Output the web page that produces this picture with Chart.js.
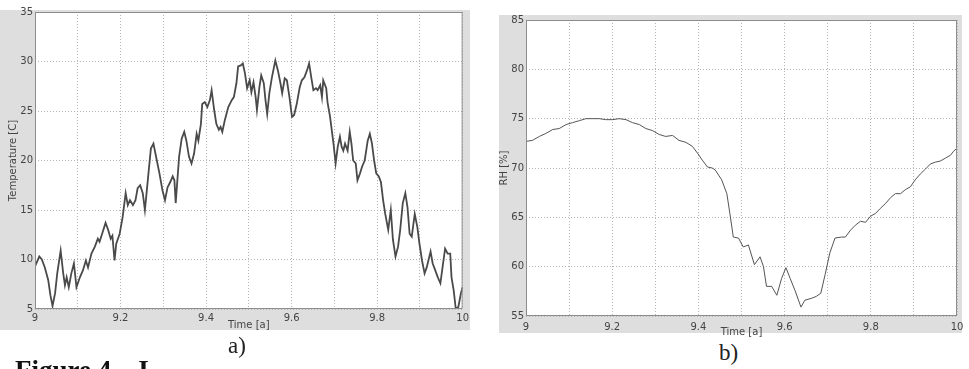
<!DOCTYPE html>
<html>
<head>
<meta charset="utf-8">
<script src="https://cdn.jsdelivr.net/npm/chart.js@4.4.1/dist/chart.umd.min.js"></script>
<style>
  body { margin: 0; background: #fff; width: 969px; height: 369px; overflow: hidden; position: relative; }
  .panel { position: absolute; background: #dedede; }
  .box { position: absolute; }
  .sub { position: absolute; font-family: "Liberation Serif", serif; font-size: 23px; color: #222; }
  .caption { position: absolute; left: 15px; top: 357px; font-family: "Liberation Serif", serif; font-weight: bold; font-size: 27px; line-height: 27px; color: #111; white-space: pre; }
</style>
</head>
<body>
<div class="panel" style="left:0;top:10px;width:470px;height:320px"></div>
<div class="panel" style="left:499px;top:15px;width:463px;height:318px"></div>
<div class="box" style="left:0;top:0;width:472px;height:335px"><canvas id="tempChart"></canvas></div>
<div class="box" style="left:489px;top:0;width:480px;height:340px"><canvas id="rhChart"></canvas></div>
<div class="sub" style="left:228px;top:333px">a)</div>
<div class="sub" style="left:719px;top:340px">b)</div>
<div class="caption">Figure 4.   I</div>
<script>
// a) temperature, time in years
const tempTime = [9.000, 9.010, 9.016, 9.023, 9.031, 9.036, 9.041, 9.047, 9.052, 9.060, 9.066, 9.070, 9.074, 9.079, 9.085, 9.091, 9.097,
  9.105, 9.112, 9.119, 9.124, 9.132, 9.140, 9.147, 9.151, 9.157, 9.165, 9.171, 9.177, 9.181, 9.186, 9.190, 9.198,
  9.205, 9.212, 9.217, 9.222, 9.229, 9.235, 9.240, 9.246, 9.252, 9.257, 9.260, 9.266, 9.271, 9.277, 9.283, 9.291, 9.298,
  9.304, 9.310, 9.316, 9.322, 9.326, 9.329, 9.337, 9.343, 9.349, 9.354, 9.360, 9.366, 9.372, 9.378, 9.382, 9.388, 9.391, 9.397,
  9.403, 9.409, 9.413, 9.419, 9.424, 9.430, 9.434, 9.438, 9.444, 9.452, 9.460, 9.465, 9.471, 9.475, 9.481, 9.486, 9.491, 9.496,
  9.502, 9.506, 9.511, 9.516, 9.519, 9.525, 9.529, 9.535, 9.539, 9.543, 9.548, 9.554, 9.562, 9.568, 9.574, 9.578, 9.584, 9.589, 9.595,
  9.601, 9.606, 9.612, 9.619, 9.624, 9.630, 9.636, 9.641, 9.646, 9.651, 9.657, 9.661, 9.667, 9.671, 9.674, 9.681, 9.684, 9.690, 9.698,
  9.703, 9.708, 9.713, 9.717, 9.721, 9.725, 9.731, 9.736, 9.740, 9.744, 9.750, 9.754, 9.760, 9.765, 9.771, 9.778, 9.783, 9.788, 9.793, 9.798,
  9.804, 9.809, 9.814, 9.819, 9.826, 9.832, 9.837, 9.843, 9.849, 9.854, 9.860, 9.866, 9.871, 9.876, 9.881, 9.888, 9.894, 9.899,
  9.905, 9.911, 9.916, 9.925, 9.930, 9.936, 9.942, 9.948, 9.953, 9.959, 9.965, 9.971, 9.974, 9.979, 9.984, 9.990, 9.996, 10.000];
const tempValues = [9.3, 10.3, 10.0, 9.2, 7.9, 6.4, 5.3, 6.6, 8.6, 10.9, 8.6, 7.4, 8.2, 7.2, 8.6, 9.6, 7.2,
  8.2, 8.9, 9.9, 9.2, 10.6, 11.3, 12.1, 11.8, 12.6, 13.7, 13.0, 12.1, 12.4, 9.9, 11.6, 12.6,
  14.3, 16.7, 15.5, 16.0, 15.5, 16.0, 17.2, 17.5, 16.7, 15.0, 16.3, 19.0, 21.2, 21.7, 20.4, 18.7, 17.0,
  16.0, 17.3, 17.8, 18.4, 18.0, 15.7, 20.4, 22.2, 22.9, 22.0, 20.4, 19.7, 20.7, 22.7, 22.0, 23.7, 25.7, 25.9,
  25.4, 26.1, 27.1, 25.1, 23.7, 23.1, 23.4, 22.9, 24.1, 25.4, 26.1, 26.4, 27.8, 29.5, 29.6, 29.8, 28.8, 27.3,
  28.1, 26.9, 27.9, 26.4, 25.1, 27.5, 28.6, 27.8, 26.1, 24.7, 26.8, 28.4, 30.1, 29.1, 27.8, 26.8, 28.3, 28.1, 26.4,
  24.4, 24.6, 25.7, 27.4, 28.1, 28.4, 29.1, 29.8, 28.4, 27.1, 27.3, 27.1, 27.6, 26.4, 28.1, 27.3, 25.9, 24.4, 21.7,
  19.7, 21.4, 22.4, 21.4, 21.0, 21.7, 21.0, 22.9, 21.7, 20.0, 19.7, 18.0, 18.7, 19.4, 20.0, 22.0, 22.7, 21.7, 20.0, 18.7,
  18.4, 17.8, 16.0, 14.6, 13.0, 15.0, 12.0, 10.3, 11.3, 13.0, 15.7, 16.7, 15.3, 12.6, 12.3, 14.6, 13.3, 11.6,
  9.9, 8.6, 9.2, 10.8, 9.6, 8.9, 8.2, 7.6, 9.2, 11.1, 10.6, 10.6, 8.2, 6.9, 5.0, 5.2, 6.6, 7.2];

// b) relative humidity
const rhTime = [9.000, 9.015, 9.031, 9.046, 9.062, 9.077, 9.093, 9.108, 9.124, 9.139, 9.154, 9.170, 9.185, 9.201, 9.216,
  9.232, 9.247, 9.263, 9.278, 9.293, 9.309, 9.324, 9.340, 9.355, 9.371, 9.386, 9.398, 9.409, 9.421, 9.432, 9.439,
  9.454, 9.466, 9.473, 9.481, 9.493, 9.504, 9.516, 9.530, 9.543, 9.551, 9.558, 9.570, 9.582, 9.593, 9.603, 9.613,
  9.624, 9.638, 9.647, 9.663, 9.674, 9.684, 9.694, 9.705, 9.717, 9.732, 9.741, 9.753, 9.764, 9.776, 9.788, 9.799,
  9.811, 9.822, 9.834, 9.846, 9.857, 9.869, 9.880, 9.892, 9.903, 9.915, 9.927, 9.938, 9.950, 9.961, 9.973, 9.985, 9.992, 10.000];
const rhValues = [72.7, 72.8, 73.2, 73.5, 73.9, 74.0, 74.4, 74.6, 74.8, 75.0, 75.0, 75.0, 74.9, 74.9, 75.0,
  74.9, 74.6, 74.4, 74.0, 73.8, 73.4, 73.2, 73.3, 72.8, 72.6, 72.2, 71.5, 70.8, 70.1, 70.0, 69.8,
  68.8, 67.4, 65.4, 63.0, 62.9, 62.0, 62.2, 60.2, 61.0, 60.0, 58.0, 58.0, 57.1, 58.8, 59.9, 58.8,
  57.6, 55.9, 56.6, 56.8, 57.0, 57.3, 59.2, 61.4, 62.9, 63.0, 63.0, 63.7, 64.2, 64.6, 64.5, 65.1,
  65.4, 65.9, 66.4, 67.0, 67.4, 67.4, 67.8, 68.1, 68.8, 69.4, 69.9, 70.4, 70.6, 70.7, 71.0, 71.3, 71.7, 72.0];

const tickFont = { family: 'DejaVu Sans', size: 10 };
const textColor = '#444';
const gridColor = '#b4b4b4';

const plotFrame = {
    id: 'plotFrame',
    beforeDraw(chart) {
        const a = chart.chartArea;
        const c = chart.ctx;
        c.save();
        c.fillStyle = '#ffffff';
        c.fillRect(a.left, a.top, a.right - a.left, a.bottom - a.top);
        c.restore();
    },
    afterDraw(chart) {
        const a = chart.chartArea;
        const c = chart.ctx;
        c.save();
        c.strokeStyle = '#8c8c8c';
        c.lineWidth = 1;
        c.strokeRect(a.left + 0.5, a.top + 0.5, a.right - a.left - 1, a.bottom - a.top - 1);
        c.restore();
    }
};

function makeChart(id, xs, ys, opts) {
    const points = xs.map((x, i) => ({ x: x, y: ys[i] }));
    return new Chart(document.getElementById(id), {
        type: 'line',
        data: {
            datasets: [{
                data: points,
                borderColor: opts.lineColor,
                borderWidth: opts.lineWidth,
                pointRadius: 0,
                tension: 0,
                fill: false
            }]
        },
        options: {
            responsive: true,
            maintainAspectRatio: false,
            animation: false,
            layout: { padding: opts.padding },
            plugins: { legend: { display: false }, tooltip: { enabled: false } },
            scales: {
                x: {
                    type: 'linear',
                    min: 9,
                    max: 10,
                    afterFit(scale) { scale.height = 22; },
                    border: { display: false, dash: [1, 2] },
                    grid: { color: gridColor, drawTicks: false },
                    ticks: {
                        stepSize: 0.1,
                        autoSkip: false,
                        maxRotation: 0,
                        padding: opts.xTickPad,
                        color: textColor,
                        font: tickFont,
                        callback(v) {
                            const k = Math.round(v * 10);
                            return k % 2 === 0 ? String(k / 10) : '';
                        }
                    },
                    title: { display: true, text: 'Time [a]', color: textColor, font: tickFont, padding: 0 }
                },
                y: {
                    min: opts.yMin,
                    max: opts.yMax,
                    afterFit(scale) { scale.width = 28; },
                    border: { display: false, dash: [1, 2] },
                    grid: { color: gridColor, drawTicks: false },
                    ticks: { stepSize: 5, padding: 2, color: textColor, font: tickFont },
                    title: { display: true, text: opts.yTitle, color: textColor, font: tickFont, padding: 0 }
                }
            }
        },
        plugins: [plotFrame]
    });
}

makeChart('tempChart', tempTime, tempValues, {
    yMin: 5, yMax: 35, yTitle: 'Temperature [C]',
    lineColor: '#4a4a4a', lineWidth: 1.8, xTickPad: 3,
    padding: { left: 7, right: 7, top: 12, bottom: 4 }
});

makeChart('rhChart', rhTime, rhValues, {
    yMin: 55, yMax: 85, yTitle: 'RH [%]',
    lineColor: '#555555', lineWidth: 1, xTickPad: 5,
    padding: { left: 9, right: 12, top: 20, bottom: 2 }
});
</script>
</body>
</html>
